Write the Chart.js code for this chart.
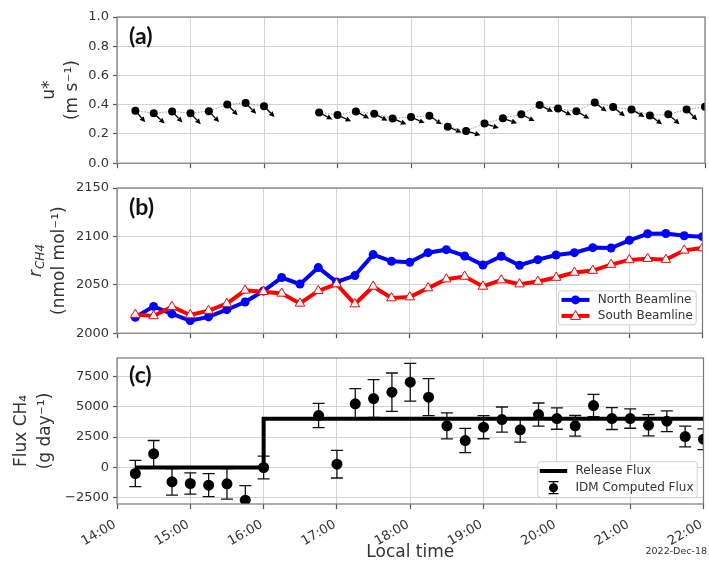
<!DOCTYPE html>
<html><head><meta charset="utf-8">
<script src="https://cdn.jsdelivr.net/npm/chart.js@4"></script>
<style>
html,body{margin:0;padding:0;background:#fff;}
#wrap{position:relative;width:709px;height:563px;overflow:hidden;background:#fff;}
canvas{position:absolute;left:0;}
</style></head><body>
<div id="wrap">
<canvas id="ca" width="709" height="175" style="top:0px"></canvas>
<canvas id="cb" width="709" height="170" style="top:175px"></canvas>
<canvas id="cc" width="709" height="218" style="top:345px"></canvas>
</div>
<script>
// ---------------- data ----------------
const times = ["14:15","14:30","14:45","15:00","15:15","15:30","15:45","16:00",
  "16:15","16:30","16:45","17:00","17:15","17:30","17:45","18:00",
  "18:15","18:30","18:45","19:00","19:15","19:30","19:45","20:00",
  "20:15","20:30","20:45","21:00","21:15","21:30","21:45","22:00"];
const hourTicks = [14,15,16,17,18,19,20,21,22];
const hourLabels = ["14:00","15:00","16:00","17:00","18:00","19:00","20:00","21:00","22:00"];
const uTicks = [0,0.2,0.4,0.6,0.8,1.0];
const rTicks = [2000,2050,2100,2150];
const fluxTicks = [-2500,0,2500,5000,7500];

// (a) friction velocity u* and wind arrow direction (screen degrees below horizontal)
const uStar = [0.358,0.342,0.354,0.342,0.356,0.402,0.411,0.389,null,null,0.347,0.330,0.354,0.339,0.306,0.316,
  0.324,0.250,0.221,0.271,0.307,0.335,0.398,0.374,0.356,0.416,0.384,0.368,0.327,0.334,0.367,0.386];
const windArrowDeg = [49,43,47,47,47,46,45,45,null,null,28,25,28,28,23,24,
  34,23,17,17,19,27,27,27,30,38,38,30,36,41,45,45];

// (b) CH4 mole fractions
const northCH4 = [2016.4,2027.7,2019.9,2013.0,2016.8,2024.3,2032.2,2043.6,2057.5,2050.7,2067.8,2053.0,2059.5,2081.2,2074.3,2073.3,
  2083.2,2086.3,2079.8,2070.5,2079.5,2070.2,2076.0,2080.8,2083.2,2088.4,2088.0,2095.9,2102.7,2103.0,2100.7,2099.7];
const southCH4 = [2019.2,2017.8,2027.4,2018.8,2023.3,2030.5,2044.2,2042.8,2041.1,2030.8,2043.8,2050.7,2030.1,2048.3,2036.3,2037.3,
  2046.6,2055.8,2058.6,2048.3,2054.8,2050.7,2053.4,2057.5,2062.7,2064.7,2070.9,2075.7,2077.0,2076.0,2085.6,2088.0];

// (c) fluxes
const idmFlux = [-493,1123,-1177,-1314,-1451,-1342,-2683,0,null,null,4271,274,5230,5668,6188,7010,
  5778,3423,2218,3313,3943,3094,4353,4025,3423,5093,4025,4025,3477,3806,2546,2327];
const idmFluxErr = [1080,1095,1095,875,945,1260,1200,930,null,null,1000,1135,1260,1550,1580,1550,
  1520,1070,1000,950,1030,1010,950,880,850,920,900,800,870,850,850,850];
const releaseTimes = ["14:15","16:00","22:00"];
const releaseFlux = [0,4000,4000];

// ---------------- helpers ----------------
const toHour = t => { const p = t.split(':').map(Number); return p[0] + p[1]/60; };
const pts = (tt, vals) => tt.map((t,i)=>({x: toHour(t), y: vals[i]}));

const GRID = '#d4d4d4', SPINE = '#7a7a7a', TICKC = '#555', TXT = '#333';
const FONT = "'DejaVu Sans', sans-serif";
Chart.defaults.font.family = FONT;
Chart.defaults.color = TXT;
Chart.defaults.animation = false;

function mkX(height, showLabels, showTitle){
  return {
    type:'linear', min:14, max:22,
    afterBuildTicks: s => { s.ticks = hourTicks.map(v=>({value:v})); },
    afterFit: s => { s.height = height; s.paddingLeft = 0; s.paddingRight = 0; },
    grid:{color:GRID, lineWidth:1, tickLength:5, tickColor:TICKC, tickWidth:1.2},
    border:{display:false},
    ticks:{display:showLabels, autoSkip:false, minRotation:30, maxRotation:30, padding:8, labelOffset:-2,
      font:{size:13}, color:TXT,
      callback:(v)=>{ const i = hourTicks.indexOf(v); return i>=0 ? hourLabels[i] : ''; }},
    title: showTitle ? {display:true, text:'Local time', font:{size:17}, color:TXT, padding:{top:0,bottom:0}} : {display:false}
  };
}
function mkY(min,max,ticks,fmt,titleText,titlePad,lh){
  return {
    type:'linear', min, max,
    afterBuildTicks: s => { s.ticks = ticks.map(v=>({value:v})); },
    afterFit: s => { s.width = 117; },
    grid:{color:GRID, lineWidth:1, tickLength:4, tickColor:TICKC, tickWidth:1.2},
    border:{display:false},
    ticks:{padding:4, font:{size:13}, color:TXT, callback: v => fmt(v)},
    title:{display:true, text:titleText, font:{size:17, lineHeight:lh}, color:TXT, padding:{top:titlePad, bottom:0}}
  };
}

const spine = { id:'spine', afterDatasetsDraw(chart){
  const {ctx, chartArea:a} = chart;
  ctx.save(); ctx.strokeStyle = SPINE; ctx.lineWidth = 1.2;
  ctx.strokeRect(a.left, a.top, a.right-a.left, a.bottom-a.top);
  ctx.restore();
}};
function panelLabel(text, dy){
  return { id:'panelLabel', afterDraw(chart){
    const {ctx, chartArea:a} = chart;
    ctx.save(); ctx.fillStyle = '#111';
    ctx.font = "bold 23px Lato, 'DejaVu Sans', sans-serif";
    ctx.textAlign = 'left'; ctx.textBaseline = 'middle';
    ctx.fillText(text, a.left + 12, a.top + dy);
    ctx.restore();
  }};
}
function frame(ctx, x, y, w, h){
  const r = 3;
  ctx.save();
  ctx.beginPath();
  ctx.moveTo(x+r,y); ctx.lineTo(x+w-r,y); ctx.quadraticCurveTo(x+w,y,x+w,y+r);
  ctx.lineTo(x+w,y+h-r); ctx.quadraticCurveTo(x+w,y+h,x+w-r,y+h);
  ctx.lineTo(x+r,y+h); ctx.quadraticCurveTo(x,y+h,x,y+h-r);
  ctx.lineTo(x,y+r); ctx.quadraticCurveTo(x,y,x+r,y); ctx.closePath();
  ctx.fillStyle = 'rgba(255,255,255,0.85)'; ctx.fill();
  ctx.strokeStyle = '#d0d0d0'; ctx.lineWidth = 1; ctx.stroke();
  ctx.restore();
}

// ---------------- panel (a) ----------------
const arrows = { id:'arrows', beforeDatasetsDraw(chart){
  const {ctx, chartArea:a} = chart;
  const meta = chart.getDatasetMeta(0);
  ctx.save();
  ctx.beginPath(); ctx.rect(a.left, a.top, a.right-a.left, a.bottom-a.top); ctx.clip();
  ctx.strokeStyle = '#000'; ctx.fillStyle = '#000'; ctx.lineWidth = 1.3;
  const L = 15, HL = 5.5, HW = 2.7;
  meta.data.forEach((el, i) => {
    if (uStar[i] === null || windArrowDeg[i] === null) return;
    const ang = windArrowDeg[i] * Math.PI/180;
    const ux = Math.cos(ang), uy = Math.sin(ang);
    const x0 = el.x, y0 = el.y, x1 = x0 + L*ux, y1 = y0 + L*uy;
    ctx.beginPath(); ctx.moveTo(x0, y0); ctx.lineTo(x1 - HL*ux, y1 - HL*uy); ctx.stroke();
    ctx.beginPath();
    ctx.moveTo(x1, y1);
    ctx.lineTo(x1 - HL*ux - HW*uy, y1 - HL*uy + HW*ux);
    ctx.lineTo(x1 - HL*ux + HW*uy, y1 - HL*uy - HW*ux);
    ctx.closePath(); ctx.fill();
  });
  ctx.restore();
}};

new Chart(document.getElementById('ca'), {
  type:'line',
  data:{ datasets:[{ label:'u*', data: pts(times, uStar), borderColor:'#9a9a9a', borderWidth:1,
    borderDash:[1.5,1.5], pointRadius:4, pointBackgroundColor:'#000', pointBorderColor:'#000',
    pointBorderWidth:0, spanGaps:false, clip:0, tension:0 }]},
  options:{ responsive:false, animation:false,
    layout:{padding:{top:17,right:1,left:0,bottom:0}},
    plugins:{legend:{display:false}, tooltip:{enabled:false}},
    scales:{ x: mkX(11,false,false),
             y: mkY(0,1,uTicks,v=>Number(v).toFixed(1),['u*','(m s⁻¹)'],39,1.3) } },
  plugins:[arrows, spine, panelLabel('(a)', 20)]
});

// ---------------- panel (b) ----------------
const rTitle = { id:'rTitle', afterDraw(chart){
  const {ctx, chartArea:a} = chart;
  const y = chart.scales.y;
  const x = y.left + 26 + 11;
  const yc = (a.top + a.bottom)/2;
  ctx.save();
  ctx.translate(x, yc); ctx.rotate(-Math.PI/2);
  ctx.fillStyle = TXT; ctx.textBaseline = 'middle'; ctx.textAlign = 'left';
  ctx.font = "italic 17px " + FONT;
  const wr = ctx.measureText('r').width;
  ctx.font = "italic 12px " + FONT;
  const ws = ctx.measureText('CH4').width;
  const start = -(wr + ws + 1)/2;
  ctx.font = "italic 17px " + FONT;
  ctx.fillText('r', start, 0);
  ctx.font = "italic 12px " + FONT;
  ctx.fillText('CH4', start + wr + 1, 4);
  ctx.restore();
}};
const legendB = { id:'legendB', afterDraw(chart){
  const {ctx, chartArea:a} = chart;
  const x0 = a.right - 144, y0 = a.bottom - 42.3, w = 137.7, h = 34;
  frame(ctx, x0, y0, w, h);
  const rows = [
    {y: y0 + 9, color:'#0000ff', label:'North Beamline', tri:false},
    {y: y0 + 25, color:'#ff0000', label:'South Beamline', tri:true}
  ];
  ctx.save();
  rows.forEach(r => {
    ctx.strokeStyle = r.color; ctx.lineWidth = 4;
    ctx.beginPath(); ctx.moveTo(x0+3, r.y); ctx.lineTo(x0+31, r.y); ctx.stroke();
    const cx = x0 + 17;
    if (!r.tri) {
      ctx.fillStyle = r.color; ctx.beginPath(); ctx.arc(cx, r.y, 4.5, 0, Math.PI*2); ctx.fill();
    } else {
      ctx.fillStyle = '#fff'; ctx.strokeStyle = r.color; ctx.lineWidth = 1;
      ctx.beginPath(); ctx.moveTo(cx, r.y-5.5); ctx.lineTo(cx+5, r.y+3.5); ctx.lineTo(cx-5, r.y+3.5); ctx.closePath();
      ctx.fill(); ctx.stroke();
    }
    ctx.fillStyle = TXT; ctx.font = "12px " + FONT; ctx.textAlign = 'left'; ctx.textBaseline = 'middle';
    ctx.fillText(r.label, x0 + 39.3, r.y);
  });
  ctx.restore();
}};

new Chart(document.getElementById('cb'), {
  type:'line',
  data:{ datasets:[
    { label:'North Beamline', data: pts(times, northCH4), borderColor:'#0000ff', borderWidth:4,
      pointRadius:4.5, pointStyle:'circle', pointBackgroundColor:'#0000ff', pointBorderColor:'#0000ff',
      pointBorderWidth:0, clip:0, tension:0, order:1 },
    { label:'South Beamline', data: pts(times, southCH4), borderColor:'#ff0000', borderWidth:4,
      pointRadius:5.5, pointStyle:'triangle', pointBackgroundColor:'#ffffff', pointBorderColor:'#ff0000',
      pointBorderWidth:1, clip:0, tension:0, order:0 }
  ]},
  options:{ responsive:false, animation:false,
    layout:{padding:{top:13,right:1,left:0,bottom:0}},
    plugins:{legend:{display:false}, tooltip:{enabled:false}},
    scales:{ x: mkX(11,false,false),
             y: mkY(2000,2150,rTicks,v=>String(v),['','(nmol mol⁻¹)'],26,1.3) } },
  plugins:[spine, rTitle, legendB, panelLabel('(b)', 20)]
});

// ---------------- panel (c) ----------------
const errBars = { id:'errBars', beforeDatasetsDraw(chart){
  const {ctx, chartArea:a} = chart;
  const xs = chart.scales.x, ys = chart.scales.y;
  ctx.save();
  ctx.beginPath(); ctx.rect(a.left, a.top, a.right-a.left, a.bottom-a.top); ctx.clip();
  ctx.strokeStyle = '#111'; ctx.lineWidth = 1.3;
  times.forEach((t,i) => {
    if (idmFlux[i] === null) return;
    const px = xs.getPixelForValue(toHour(t));
    const yt = ys.getPixelForValue(idmFlux[i] + idmFluxErr[i]);
    const yb = ys.getPixelForValue(idmFlux[i] - idmFluxErr[i]);
    ctx.beginPath();
    ctx.moveTo(px, yt); ctx.lineTo(px, yb);
    ctx.moveTo(px-6, yt); ctx.lineTo(px+6, yt);
    ctx.moveTo(px-6, yb); ctx.lineTo(px+6, yb);
    ctx.stroke();
  });
  ctx.restore();
}};
const legendC = { id:'legendC', afterDraw(chart){
  const {ctx, chartArea:a} = chart;
  const x0 = a.right - 165.7, y0 = a.bottom - 42.3, w = 159.4, h = 36;
  frame(ctx, x0, y0, w, h);
  ctx.save();
  const r1 = y0 + 9.3, r2 = y0 + 26;
  ctx.strokeStyle = '#000'; ctx.lineWidth = 4;
  ctx.beginPath(); ctx.moveTo(x0+2, r1); ctx.lineTo(x0+29.4, r1); ctx.stroke();
  const cx = x0 + 15.7;
  ctx.lineWidth = 1.3;
  ctx.beginPath();
  ctx.moveTo(cx, r2-6); ctx.lineTo(cx, r2+6);
  ctx.moveTo(cx-5, r2-6); ctx.lineTo(cx+5, r2-6);
  ctx.moveTo(cx-5, r2+6); ctx.lineTo(cx+5, r2+6);
  ctx.stroke();
  ctx.fillStyle = '#000'; ctx.beginPath(); ctx.arc(cx, r2, 4.5, 0, Math.PI*2); ctx.fill();
  ctx.fillStyle = TXT; ctx.font = "12px " + FONT; ctx.textAlign = 'left'; ctx.textBaseline = 'middle';
  ctx.fillText('Release Flux', x0 + 37.7, r1);
  ctx.fillText('IDM Computed Flux', x0 + 37.7, r2);
  ctx.restore();
}};
const dateStamp = { id:'dateStamp', afterDraw(chart){
  const ctx = chart.ctx;
  ctx.save(); ctx.fillStyle = TXT; ctx.font = "9.5px " + FONT;
  ctx.textAlign = 'right'; ctx.textBaseline = 'middle';
  ctx.fillText('2022-Dec-18', 707, 206.5);
  ctx.restore();
}};

new Chart(document.getElementById('cc'), {
  type:'line',
  data:{ datasets:[
    { label:'Release Flux', data: pts(releaseTimes, releaseFlux), borderColor:'#000', borderWidth:4,
      stepped:'before', pointRadius:0, clip:0 },
    { label:'IDM Computed Flux', data: pts(times, idmFlux), showLine:false, pointRadius:5.5,
      pointBackgroundColor:'#000', pointBorderColor:'#000', pointBorderWidth:0, clip:0 }
  ]},
  options:{ responsive:false, animation:false,
    layout:{padding:{top:13,right:1,left:0,bottom:0}},
    plugins:{legend:{display:false}, tooltip:{enabled:false}},
    scales:{ x: mkX(59,true,true),
             y: mkY(-3000,9000,fluxTicks,v=> v<0 ? '−'+Math.abs(v) : String(v),['Flux CH₄','(g day⁻¹)'],9.5,1.41) } },
  plugins:[errBars, spine, legendC, dateStamp, panelLabel('(c)', 18)]
});
</script>
</body></html>
